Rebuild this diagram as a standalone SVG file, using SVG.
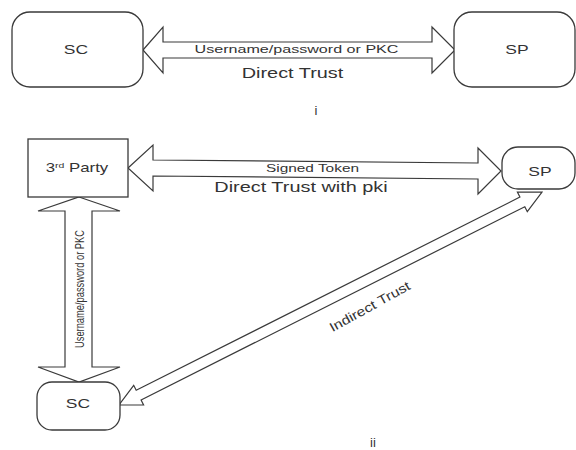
<svg xmlns="http://www.w3.org/2000/svg" width="576" height="450" viewBox="0 0 576 450">
<style>
.box{fill:#fff;stroke:#3a3a3a;stroke-width:1.3}
.arr{fill:#fff;stroke:#3a3a3a;stroke-width:1.2;stroke-linejoin:miter}
text{font-family:"Liberation Sans",Arial,sans-serif;fill:#333;text-anchor:middle}
</style>
<rect width="576" height="450" fill="#fff"/>
<g id="connectors">
<polygon class="arr" points="143,50 163,27 163,42 432,42 432,27 455,50 432,73 432,58 163,58 163,73"/>
<polygon class="arr" points="128,168 153,145 153,160 478,163 478,148 501,171 478,194 478,179 153,176 153,191"/>
<polygon class="arr" points="79,197 120,211 92,211 92,367 120,367 79,382 38,367 65,367 65,211 38,211"/>
<polygon class="arr" points="119,405 143.6,404.9 141.1,399.9 524.8,206.7 527.3,211.7 542,192 517.4,192.1 519.9,197.1 136.2,390.3 133.7,385.3"/>
<g transform="translate(296.5,53) scale(1.4,1)"><text font-size="11.5">Username/password or PKC</text></g>
<g transform="translate(292.5,78) scale(1.42,1)"><text font-size="14">Direct Trust</text></g>
<g transform="translate(312.5,172) scale(1.4,1)"><text font-size="11">Signed Token</text></g>
<g transform="translate(301,192) scale(1.42,1)"><text font-size="14">Direct Trust with pki</text></g>
<g transform="translate(80,289) rotate(-90) scale(1,1.4)"><text font-size="9.5" y="3" textLength="118" lengthAdjust="spacingAndGlyphs">Username/password or PKC</text></g>
<g transform="translate(370,307) rotate(-29)"><text font-size="13" y="4" textLength="90" lengthAdjust="spacingAndGlyphs">Indirect Trust</text></g>
</g>
<g id="sc-top"><rect class="box" x="12" y="12" width="131" height="75" rx="18"/><g transform="translate(76,54) scale(1.4,1)"><text font-size="12.5">SC</text></g></g>
<g id="sp-top"><rect class="box" x="454" y="12" width="121" height="75" rx="18"/><g transform="translate(517,54) scale(1.4,1)"><text font-size="12.5">SP</text></g></g>
<g id="third-party"><rect class="box" x="28" y="139" width="100" height="58"/><g transform="translate(77,172) scale(1.4,1)"><text font-size="12">3<tspan font-size="7.5" dy="-4">rd</tspan><tspan dy="4"> Party</tspan></text></g></g>
<g id="sp-bottom"><rect class="box" x="502" y="147" width="73" height="42" rx="16"/><g transform="translate(540,176) scale(1.4,1)"><text font-size="12.5">SP</text></g></g>
<g id="sc-bottom"><rect class="box" x="37" y="382" width="83" height="48" rx="15"/><g transform="translate(78,408) scale(1.4,1)"><text font-size="12.5">SC</text></g></g>
<g id="label-i"><text x="316" y="115" font-size="13">i</text></g>
<g id="label-ii"><text x="373" y="447" font-size="13">ii</text></g>
</svg>
